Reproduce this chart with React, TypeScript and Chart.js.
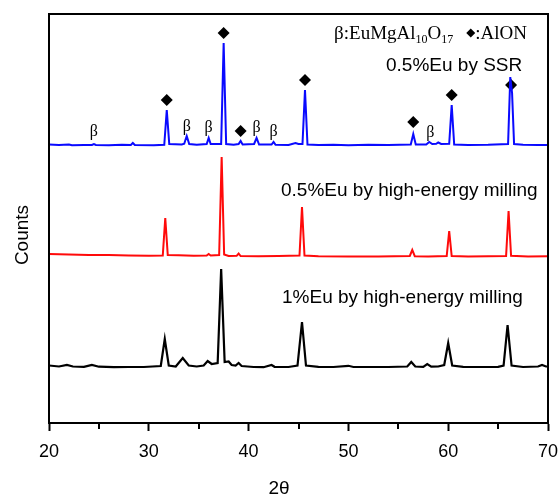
import React, { useEffect, useRef } from "react";
import { Chart, registerables } from "chart.js";

Chart.register(...registerables);

// ---------- data ----------
const X_MIN = 20;
const X_MAX = 70;
const X_STEP = 10;
const MINOR_TICKS = [25, 35, 45, 55, 65];
const Y_MIN = 0;
const Y_MAX = 4090;

// 0.5%Eu by SSR (blue, stacked on top)
const ssrX = [20.0, 21.0, 22.0, 22.3, 23.5, 24.3, 24.5, 24.7, 26.0, 27.3, 28.2, 28.4, 28.6, 30.5, 31.55, 31.8, 32.05, 33.3, 33.55, 33.8, 34.05, 34.8, 35.8, 36.0, 36.2, 37.25, 37.5, 37.75, 38.5, 39.0, 39.2, 39.4, 40.55, 40.8, 41.05, 42.3, 42.5, 42.7, 44.0, 44.7, 45.0, 45.4, 45.65, 45.9, 47.0, 48.5, 50.0, 52.0, 54.0, 56.25, 56.5, 56.75, 57.8, 58.1, 58.4, 58.8, 59.0, 59.3, 60.1, 60.35, 60.6, 62.0, 64.0, 66.0, 66.22, 66.4, 66.6, 67.5, 69.0, 70.0];
const ssrY = [2785, 2780, 2784, 2778, 2780, 2780, 2790, 2780, 2778, 2782, 2780, 2800, 2780, 2778, 2782, 3130, 2790, 2785, 2792, 2870, 2790, 2782, 2790, 2850, 2790, 2790, 3800, 2790, 2782, 2790, 2820, 2785, 2790, 2850, 2785, 2785, 2810, 2782, 2780, 2800, 2790, 2790, 3330, 2785, 2780, 2782, 2778, 2782, 2780, 2785, 2890, 2785, 2785, 2810, 2790, 2792, 2805, 2790, 2792, 3180, 2785, 2780, 2782, 2790, 3460, 3300, 2790, 2782, 2780, 2780];

// 0.5%Eu by high-energy milling (red, middle)
const hemHalfX = [20.0, 22.0, 24.0, 26.0, 28.0, 30.0, 31.4, 31.65, 31.9, 33.0, 34.5, 35.8, 36.0, 36.2, 37.05, 37.3, 37.55, 38.0, 38.8, 39.0, 39.2, 41.0, 43.0, 45.1, 45.35, 45.6, 47.0, 50.0, 53.0, 56.15, 56.4, 56.65, 58.0, 59.85, 60.1, 60.35, 62.0, 64.0, 65.8, 66.05, 66.3, 68.0, 70.0];
const hemHalfY = [1690, 1685, 1680, 1680, 1675, 1672, 1675, 2050, 1680, 1678, 1672, 1675, 1690, 1675, 1680, 2660, 1685, 1670, 1672, 1695, 1670, 1668, 1670, 1675, 2160, 1675, 1668, 1665, 1665, 1670, 1730, 1668, 1665, 1670, 1920, 1670, 1665, 1668, 1670, 2120, 1672, 1665, 1668];

// 1%Eu by high-energy milling (black, bottom)
const hem1X = [20.0, 21.0, 21.8, 22.4, 23.5, 24.3, 25.0, 26.5, 28.0, 29.5, 31.2, 31.6, 32.0, 32.7, 33.4, 34.0, 34.8, 35.5, 35.9, 36.3, 36.9, 37.25, 37.6, 38.0, 38.3, 38.7, 39.0, 39.3, 40.5, 41.5, 42.3, 42.6, 44.0, 44.9, 45.35, 45.75, 47.0, 48.5, 50.0, 50.5, 52.0, 54.0, 55.9, 56.3, 56.7, 57.5, 57.9, 58.3, 59.0, 59.6, 60.0, 60.4, 61.5, 63.0, 65.0, 65.55, 65.95, 66.35, 67.5, 69.0, 69.4, 69.8, 70.0];
const hem1Y = [575, 565, 580, 565, 562, 580, 563, 558, 560, 560, 570, 840, 575, 565, 650, 575, 565, 575, 620, 590, 600, 1540, 610, 615, 580, 575, 600, 570, 560, 558, 580, 562, 560, 575, 1010, 575, 562, 560, 572, 560, 560, 560, 565, 610, 565, 562, 590, 563, 565, 580, 800, 575, 562, 560, 562, 575, 980, 575, 560, 565, 580, 565, 565];

// AlON markers (diamonds) and β (EuMgAl10O17) markers
const alonX = [31.8, 37.5, 39.2, 45.65, 56.5, 60.35, 66.3];
const alonY = [3230, 3900, 2920, 3430, 3010, 3280, 3380];
const betaX = [24.5, 33.8, 36.0, 40.8, 42.5, 58.2];
const betaY = [2910, 2960, 2950, 2950, 2910, 2900];

const seriesLabels = [
  "0.5%Eu by SSR",
  "0.5%Eu by high-energy milling",
  "1%Eu by high-energy milling",
];
const xTitle = "2θ";
const yTitle = "Counts";

// ---------- layout / styles ----------
const W = 559;
const H = 496;
const AREA = { left: 49, top: 14, right: 548, bottom: 423 };
const SANS = '"Liberation Sans", Arial, Helvetica, sans-serif';
const SERIF = '"Liberation Serif", "Times New Roman", Times, serif';
const LABEL_POS = [
  { x: 386, y: 70.5 },
  { x: 281, y: 196 },
  { x: 282, y: 303 },
];

const toPts = (xs: number[], ys: number[]) => xs.map((v, i) => ({ x: v, y: ys[i] }));

const decorPlugin = {
  id: "decor",
  afterDatasetsDraw(chart: any) {
    const { ctx, chartArea: a, scales } = chart;
    const xs = scales.x;
    const ys = scales.y;
    ctx.save();
    // frame
    ctx.strokeStyle = "#000";
    ctx.lineWidth = 2;
    ctx.strokeRect(a.left, a.top, a.right - a.left, a.bottom - a.top);
    // minor ticks
    ctx.beginPath();
    MINOR_TICKS.forEach((v) => {
      const px = Math.round(xs.getPixelForValue(v));
      ctx.moveTo(px, a.bottom);
      ctx.lineTo(px, a.bottom + 6);
    });
    ctx.stroke();

    ctx.fillStyle = "#000";
    // beta labels
    ctx.font = `16px ${SERIF}`;
    ctx.textAlign = "center";
    ctx.textBaseline = "middle";
    betaX.forEach((v, i) => {
      ctx.fillText("β", xs.getPixelForValue(v), ys.getPixelForValue(betaY[i]));
    });

    // series labels
    ctx.font = `19px ${SANS}`;
    ctx.textAlign = "left";
    ctx.textBaseline = "alphabetic";
    seriesLabels.forEach((t, i) => ctx.fillText(t, LABEL_POS[i].x, LABEL_POS[i].y));

    // phase key: β:EuMgAl10O17  ◆:AlON
    const F = 19;
    const S = 12;
    const base = 39;
    const parts: { t: string; sub?: boolean; gap?: number; diamond?: boolean }[] = [
      { t: "β:EuMgAl" },
      { t: "10", sub: true },
      { t: "O" },
      { t: "17", sub: true },
      { t: "", gap: 13 },
      { t: "", diamond: true },
      { t: ":AlON" },
    ];
    const widthOf = (p: any) => {
      if (p.gap) return p.gap;
      if (p.diamond) return 9;
      ctx.font = `${p.sub ? S : F}px ${SERIF}`;
      return ctx.measureText(p.t).width;
    };
    const total = parts.reduce((s, p) => s + widthOf(p), 0);
    let cx = 527 - total;
    parts.forEach((p) => {
      const w = widthOf(p);
      if (p.diamond) {
        const mx = cx + 4.5;
        const my = base - 6;
        ctx.beginPath();
        ctx.moveTo(mx, my - 4.5);
        ctx.lineTo(mx + 4.5, my);
        ctx.lineTo(mx, my + 4.5);
        ctx.lineTo(mx - 4.5, my);
        ctx.closePath();
        ctx.fill();
      } else if (p.t) {
        ctx.font = `${p.sub ? S : F}px ${SERIF}`;
        ctx.fillText(p.t, cx, p.sub ? base + 4 : base);
      }
      cx += w;
    });

    // axis titles
    ctx.font = `19px ${SANS}`;
    ctx.textAlign = "center";
    ctx.textBaseline = "alphabetic";
    ctx.fillText(xTitle, 279, 494);
    ctx.translate(28, 235);
    ctx.rotate(-Math.PI / 2);
    ctx.fillText(yTitle, 0, 0);
    ctx.restore();
  },
};

export default function App() {
  const ref = useRef<HTMLCanvasElement | null>(null);

  useEffect(() => {
    if (!ref.current) return;
    const chart = new Chart(ref.current, {
      type: "line",
      data: {
        datasets: [
          {
            label: seriesLabels[0],
            data: toPts(ssrX, ssrY),
            borderColor: "#0a0aff",
            borderWidth: 2,
            pointRadius: 0,
            tension: 0,
          },
          {
            label: seriesLabels[1],
            data: toPts(hemHalfX, hemHalfY),
            borderColor: "#ff0a0a",
            borderWidth: 2,
            pointRadius: 0,
            tension: 0,
          },
          {
            label: seriesLabels[2],
            data: toPts(hem1X, hem1Y),
            borderColor: "#000000",
            borderWidth: 2.2,
            pointRadius: 0,
            tension: 0,
          },
          {
            type: "scatter",
            label: "AlON",
            data: toPts(alonX, alonY),
            showLine: false,
            pointStyle: "rectRot",
            pointRadius: 6,
            backgroundColor: "#000",
            borderColor: "#000",
            borderWidth: 0,
          } as any,
        ],
      },
      options: {
        animation: false,
        responsive: false,
        devicePixelRatio: 1,
        layout: { padding: { left: 0, top: AREA.top, right: W - AREA.right, bottom: 0 } },
        plugins: { legend: { display: false }, tooltip: { enabled: false } },
        scales: {
          x: {
            type: "linear",
            min: X_MIN,
            max: X_MAX,
            afterFit: (s: any) => {
              s.height = H - AREA.bottom;
              s.paddingLeft = 0;
              s.paddingRight = 0;
            },
            ticks: {
              stepSize: X_STEP,
              color: "#000",
              font: { family: SANS, size: 18 },
              padding: 10,
              maxRotation: 0,
            },
            grid: {
              drawOnChartArea: false,
              drawTicks: true,
              tickLength: 8,
              tickWidth: 2,
              tickColor: "#000",
            },
            border: { display: true, color: "#000", width: 2 },
          },
          y: {
            type: "linear",
            min: Y_MIN,
            max: Y_MAX,
            afterFit: (s: any) => {
              s.width = AREA.left;
              s.paddingTop = 0;
              s.paddingBottom = 0;
            },
            ticks: { display: false },
            grid: { display: false },
            border: { display: true, color: "#000", width: 2 },
          },
        },
      },
      plugins: [decorPlugin],
    });
    return () => chart.destroy();
  }, []);

  return (
    <div style={{ position: "fixed", left: 0, top: 0, width: W, height: H, background: "#fff" }}>
      <canvas ref={ref} width={W} height={H} style={{ width: W, height: H, display: "block" }} />
    </div>
  );
}
